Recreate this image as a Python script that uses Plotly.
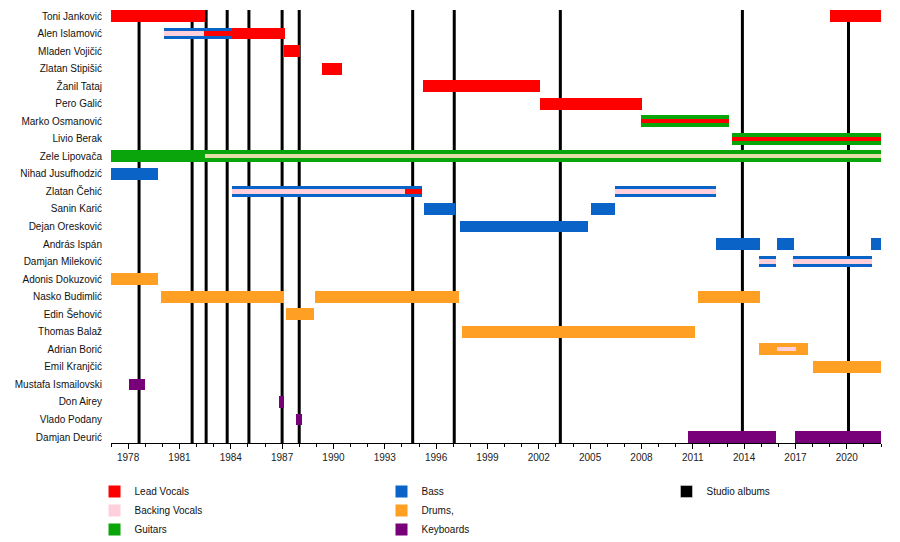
import plotly.graph_objects as go

# ---------------- data ----------------
members = [
    "Toni Janković", "Alen Islamović", "Mladen Vojičić", "Zlatan Stipišić",
    "Žanil Tataj", "Pero Galić", "Marko Osmanović", "Livio Berak",
    "Zele Lipovača", "Nihad Jusufhodzić", "Zlatan Čehić", "Sanin Karić",
    "Dejan Oresković", "András Ispán", "Damjan Mileković", "Adonis Dokuzović",
    "Nasko Budimlić", "Edin Šehović", "Thomas Balaž", "Adrian Borić",
    "Emil Kranjčić", "Mustafa Ismailovski", "Don Airey", "Vlado Podany",
    "Damjan Deurić",
]

# full-height bars: (member, start, end)
lead_vocals = [
    ("Toni Janković", 1977.0, 1982.5), ("Toni Janković", 2019.0, 2022.0),
    ("Alen Islamović", 1984.1, 1987.15), ("Mladen Vojičić", 1987.1, 1988.05),
    ("Zlatan Stipišić", 1989.33, 1990.5), ("Žanil Tataj", 1995.25, 2002.07),
    ("Pero Galić", 2002.07, 2008.04),
]
guitars = [
    ("Zele Lipovača", 1977.0, 2022.0), ("Marko Osmanović", 2008.0, 2013.13),
    ("Livio Berak", 2013.3, 2022.0),
]
bass = [
    ("Alen Islamović", 1980.1, 1984.1), ("Nihad Jusufhodzić", 1977.0, 1979.74),
    ("Zlatan Čehić", 1984.08, 1995.16), ("Zlatan Čehić", 2006.46, 2012.37),
    ("Sanin Karić", 1995.3, 1997.1), ("Sanin Karić", 2005.06, 2006.46),
    ("Dejan Oresković", 1997.4, 2004.9), ("András Ispán", 2012.37, 2014.93),
    ("András Ispán", 2015.93, 2016.92), ("András Ispán", 2021.43, 2022.0),
    ("Damjan Mileković", 2014.88, 2015.87), ("Damjan Mileković", 2016.86, 2021.48),
]
drums = [
    ("Adonis Dokuzović", 1977.0, 1979.74), ("Nasko Budimlić", 1979.9, 1987.1),
    ("Nasko Budimlić", 1988.9, 1997.34), ("Nasko Budimlić", 2011.3, 2014.93),
    ("Edin Šehović", 1987.2, 1988.86), ("Thomas Balaž", 1997.5, 2011.14),
    ("Adrian Borić", 2014.88, 2017.73), ("Emil Kranjčić", 2018.0, 2022.0),
]
keyboards = [
    ("Mustafa Ismailovski", 1978.04, 1978.97), ("Don Airey", 1986.8, 1987.1),
    ("Vlado Podany", 1987.8, 1988.15), ("Damjan Deurić", 2010.73, 2015.87),
    ("Damjan Deurić", 2016.97, 2022.0),
]

# thin stripes (secondary roles)
lead_vocals_stripe = [
    ("Alen Islamović", 1982.45, 1984.1), ("Zlatan Čehić", 1994.2, 1995.16),
    ("Marko Osmanović", 2007.95, 2013.13), ("Livio Berak", 2013.3, 2022.0),
]
backing_vocals_stripe = [
    ("Alen Islamović", 1980.1, 1982.45), ("Zele Lipovača", 1982.5, 2022.0),
    ("Zlatan Čehić", 1984.08, 1994.2), ("Zlatan Čehić", 2006.46, 2012.37),
    ("Damjan Mileković", 2014.88, 2015.87), ("Damjan Mileković", 2016.86, 2021.48),
    ("Adrian Borić", 2015.93, 2017.04),
]

studio_albums = [1978.64, 1981.74, 1982.56, 1983.79, 1985.06, 1987.0,
                 1988.0, 1994.63, 1997.06, 2003.26, 2013.9, 2020.1]

# ---------------- styling ----------------
C_LEAD = "#ff0000"
C_BACK = "#ffd0dc"
C_GUIT = "#0aa50a"
C_BASS = "#0a64c8"
C_DRUM = "#ffa024"
C_KEYS = "#780078"
C_ZELE_STRIPE = "#e3dca8"

FULL_W = 0.67
STRIPE_W = 0.24

idx = {m: i for i, m in enumerate(members)}
FONT = "Liberation Sans, Arial, sans-serif"
LEG_FONT = dict(family=FONT, size=10, color="#111")

fig = go.Figure()


def add_bars(rows, name, color, width, legend, showlegend=True, colors=None):
    fig.add_trace(go.Bar(
        orientation="h",
        y=[idx[r[0]] for r in rows],
        base=[r[1] for r in rows],
        x=[r[2] - r[1] for r in rows],
        width=width,
        marker=dict(color=colors if colors else color, line=dict(width=0)),
        name=name,
        legend=legend,
        showlegend=showlegend,
        legendgroup=name,
        hovertemplate="%{base:.1f}–%{x:.1f}<extra>" + name + "</extra>",
    ))


add_bars(lead_vocals, "Lead Vocals", C_LEAD, FULL_W, "legend")
add_bars(guitars, "Guitars", C_GUIT, FULL_W, "legend")
add_bars(bass, "Bass", C_BASS, FULL_W, "legend2")
add_bars(drums, "Drums,", C_DRUM, FULL_W, "legend2")
add_bars(keyboards, "Keyboards", C_KEYS, FULL_W, "legend2")
add_bars(lead_vocals_stripe, "Lead Vocals", C_LEAD, STRIPE_W, "legend", showlegend=False)
bv_colors = [C_ZELE_STRIPE if r[0] == "Zele Lipovača" else C_BACK for r in backing_vocals_stripe]
add_bars(backing_vocals_stripe, "Backing Vocals", C_BACK, STRIPE_W, "legend", colors=bv_colors)
# legend entry for studio albums (lines drawn as shapes below)
fig.add_trace(go.Bar(orientation="h", x=[None], y=[None], name="Studio albums",
                     marker=dict(color="#000000"), legend="legend3"))

for yr in studio_albums:
    fig.add_shape(type="line", xref="x", yref="paper", x0=yr, x1=yr, y0=0, y1=1,
                  line=dict(color="black", width=3), layer="below")

# legend order: Lead, Backing, Guitars
fig.data[0].legendrank = 1
fig.data[6].legendrank = 2
fig.data[1].legendrank = 3

# the page adds an 8px body margin, so margins are offset to compensate
LEG_Y = -0.0785
fig.update_layout(
    width=900, height=542,
    margin=dict(l=103, r=27, t=2, b=107, autoexpand=False),
    paper_bgcolor="white", plot_bgcolor="white",
    barmode="overlay",
    bargap=0,
    font=dict(family=FONT, size=10, color="#111"),
    legend=dict(x=-0.0214, y=LEG_Y, xanchor="left", yanchor="top",
                font=LEG_FONT, itemwidth=30, tracegroupgap=0, traceorder="normal"),
    legend2=dict(x=0.3513, y=LEG_Y, xanchor="left", yanchor="top",
                 font=LEG_FONT, itemwidth=30, tracegroupgap=0),
    legend3=dict(x=0.7214, y=LEG_Y, xanchor="left", yanchor="top",
                 font=LEG_FONT, itemwidth=30, tracegroupgap=0),
)
fig.update_xaxes(
    range=[1977, 2022], tick0=1978, dtick=3, ticks="outside", ticklen=5,
    tickcolor="black", showline=True, linecolor="black", linewidth=1,
    showgrid=False, zeroline=False, tickfont=dict(size=10, color="#222"),
    automargin=False,
    minor=dict(dtick=1, ticks="outside", ticklen=3, tickcolor="black", showgrid=False),
)
fig.update_yaxes(
    range=[24.342, -0.342], tickvals=list(range(len(members))), ticktext=members,
    showgrid=False, zeroline=False, showline=False, ticks="", automargin=False,
    ticklabelstandoff=8, tickfont=dict(size=10, color="#111"),
)

fig.write_html("out.html")
